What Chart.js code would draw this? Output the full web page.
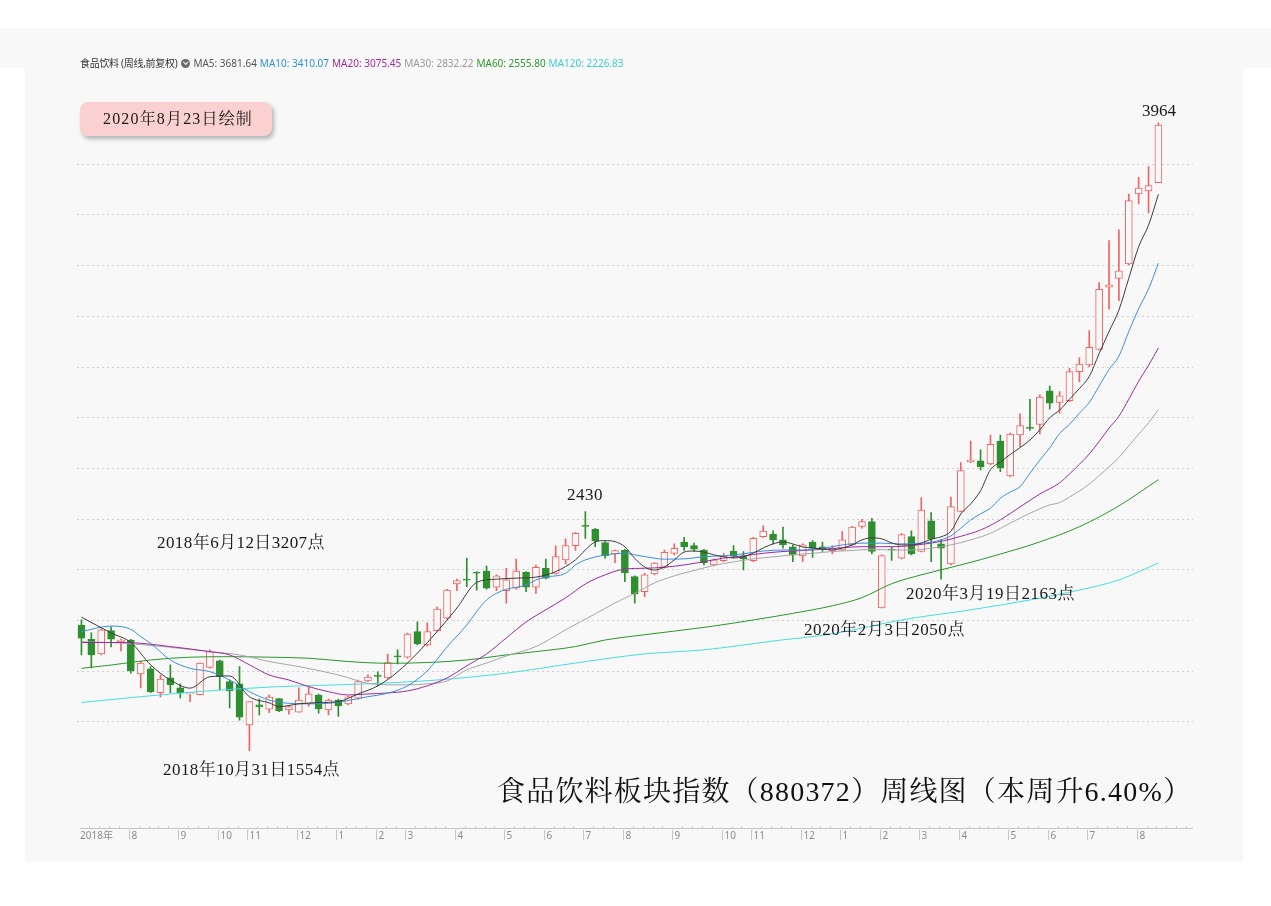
<!DOCTYPE html>
<html lang="zh">
<head>
<meta charset="utf-8">
<title>食品饮料板块指数周线图</title>
<script src="https://cdn.jsdelivr.net/npm/chart.js@4.4.1/dist/chart.umd.min.js"></script>
<style>
html,body{margin:0;padding:0;background:#fff;}
body{width:1271px;height:906px;position:relative;overflow:hidden;font-family:"Noto Sans","Noto Sans CJK SC",sans-serif;}
#band{position:absolute;left:0;top:28px;width:1271px;height:40px;background:#f8f8f8;}
#panel{position:absolute;left:25px;top:68px;width:1218px;height:794px;background:#f8f8f8;}
#wrap{position:absolute;left:0;top:0;width:1271px;height:906px;}
#legend{position:absolute;left:80px;top:56px;height:14px;display:flex;align-items:center;font-size:10px;line-height:14px;white-space:nowrap;}
#legend span{margin-right:3px;}
#legend .name{letter-spacing:-0.3px;margin-right:4px;}
#legend .icon{position:relative;display:inline-block;width:9px;height:9px;border-radius:50%;background:#6b6b6b;margin-right:3px;}
#legend .icon:after{content:"";position:absolute;left:3px;top:1.5px;width:2.5px;height:2.5px;border-right:1.2px solid #fff;border-bottom:1.2px solid #fff;transform:rotate(45deg);}
.note{position:absolute;font-family:"Liberation Serif","Noto Serif CJK SC","Noto Sans CJK SC",serif;color:#1a1a1a;white-space:nowrap;line-height:1;font-size:17px;}
#stamp{position:absolute;left:80px;top:102px;width:192px;height:34px;border-radius:8px;background:#fbd0d0;box-shadow:2px 3px 4px rgba(0,0,0,0.28);}
#stamp span{position:absolute;left:23px;top:9px;font-size:16px;}
#title{font-size:28px;color:#111;}
</style>
</head>
<body>
<div id="band"></div>
<div id="panel"></div>
<div id="wrap"><canvas id="klineChart" width="1271" height="906"></canvas></div>

<div id="legend">
  <span class="name" style="color:#333">食品饮料 (周线,前复权)</span>
  <span class="icon"></span>
  <span style="color:#555">MA5: 3681.64</span>
  <span style="color:#2f8fdd">MA10: 3410.07</span>
  <span style="color:#a3299f">MA20: 3075.45</span>
  <span style="color:#9a9a9a">MA30: 2832.22</span>
  <span style="color:#2b9a2b">MA60: 2555.80</span>
  <span style="color:#3dcfcf">MA120: 2226.83</span>
</div>

<div id="stamp"><span class="note" data-w="150">2020年8月23日绘制</span></div>
<span class="note" style="left:567px;top:486px" data-w="36">2430</span>
<span class="note" style="left:1142px;top:102px" data-w="34">3964</span>
<span class="note" style="left:157px;top:534px" data-w="168">2018年6月12日3207点</span>
<span class="note" style="left:163px;top:761px" data-w="177">2018年10月31日1554点</span>
<span class="note" style="left:804px;top:621px" data-w="161">2020年2月3日2050点</span>
<span class="note" style="left:906px;top:585px" data-w="169">2020年3月19日2163点</span>
<span class="note" id="title" style="left:497px;top:778px" data-w="695">食品饮料板块指数（880372）周线图（本周升6.40%）</span>

<script>
// weekly candles, 2018-07 .. 2020-08
const opens = [1982,1926,1868,1960,1916,1923,1789,1809,1715,1774,1734,1710,1707,1815,1841,1759,1750,1588,1667,1650,
  1692,1647,1638,1671,1706,1647,1686,1671,1693,1761,1783,1773,1859,1855,1956,1903,1960,2009,2144,2163,
  2191,2195,2131,2118,2127,2190,2131,2206,2186,2239,2295,2373,2360,2307,2263,2278,2173,2114,2184,2210,
  2265,2309,2295,2278,2219,2236,2274,2252,2236,2331,2341,2318,2291,2255,2309,2291,2276,2278,2298,2371,
  2390,2049,2281,2246,2331,2272,2393,2302,2223,2430,2626,2630,2618,2708,2570,2732,2762,2774,2906,2860,
  2867,2982,3008,3070,3315,3350,3407,3683,3695,3728];
const highs = [2002,1951,1967,1974,1927,1926,1840,1818,1785,1825,1750,1714,1833,1884,1844,1765,1818,1680,1690,1706,
  1692,1662,1734,1738,1709,1690,1690,1702,1765,1785,1797,1867,1884,1950,1995,1991,2053,2123,2163,2246,
  2193,2215,2180,2206,2242,2193,2219,2242,2294,2322,2347,2430,2364,2311,2278,2281,2176,2186,2228,2278,
  2302,2328,2305,2281,2242,2265,2295,2272,2328,2373,2354,2368,2298,2302,2315,2309,2294,2351,2371,2399,
  2403,2259,2291,2343,2354,2485,2426,2318,2487,2623,2708,2673,2732,2732,2739,2815,2873,2890,2925,2903,
  2995,3036,3144,3333,3499,3541,3683,3749,3791,3964];
const lows = [1864,1813,1864,1896,1880,1792,1734,1715,1698,1715,1694,1680,1706,1812,1726,1655,1607,1486,1627,1636,
  1640,1630,1638,1662,1634,1627,1621,1667,1689,1759,1742,1769,1828,1851,1903,1899,1957,2005,2118,2133,
  2120,2123,2118,2068,2123,2114,2107,2164,2183,2223,2276,2324,2291,2246,2228,2153,2068,2094,2180,2206,
  2259,2276,2272,2219,2215,2232,2246,2199,2232,2328,2302,2285,2232,2232,2249,2272,2263,2276,2294,2364,
  2263,2049,2237,2243,2259,2270,2232,2163,2219,2428,2623,2594,2614,2587,2566,2686,2750,2736,2834,2818,
  2863,2942,3001,3068,3228,3262,3403,3644,3609,3728];
const closes = [1930,1864,1963,1926,1923,1801,1832,1719,1769,1746,1714,1714,1832,1877,1778,1723,1618,1680,1659,1698,
  1644,1660,1686,1710,1651,1686,1663,1699,1759,1777,1779,1834,1856,1946,1907,1956,2045,2120,2157,2159,
  2187,2127,2176,2160,2195,2131,2210,2167,2252,2295,2344,2371,2314,2255,2276,2189,2105,2180,2226,2269,
  2285,2291,2281,2228,2239,2255,2255,2243,2324,2353,2318,2298,2259,2298,2285,2281,2285,2318,2368,2390,
  2272,2256,2278,2339,2263,2436,2321,2285,2449,2591,2633,2607,2695,2603,2735,2769,2758,2881,2857,2886,
  2982,3012,3078,3307,3324,3380,3657,3706,3716,3955];

// moving averages: [week index, value]
const ma5 = [[0,2013],[3,1951],[5,1913],[7,1825],[9,1765],[11,1733],[13,1778],[15,1781],[17,1699],[19,1675],
  [20,1660],[22,1671],[24,1676],[26,1680],[28,1710],[30,1742],[32,1797],[34,1871],[36,1956],[38,2049],
  [40,2150],[42,2163],[44,2167],[46,2171],[48,2193],[50,2239],[51,2278],[52,2310],[53,2315],[54,2311],
  [55,2291],[56,2245],[57,2211],[58,2199],[59,2211],[60,2239],[61,2270],[62,2274],[63,2270],[64,2259],
  [65,2251],[66,2247],[67,2251],[68,2266],[69,2286],[70,2302],[71,2310],[72,2302],[73,2290],[74,2286],
  [75,2282],[76,2278],[77,2286],[78,2298],[79,2318],[80,2326],[81,2322],[82,2306],[83,2298],[84,2298],
  [85,2305],[86,2321],[87,2330],[88,2352],[89,2420],[90,2460],[91,2512],[92,2595],[93,2625],[94,2655],
  [95,2682],[96,2712],[97,2752],[98,2800],[99,2830],[100,2873],[101,2915],[102,2963],[103,3053],[104,3140],
  [105,3225],[106,3350],[107,3475],[108,3560],[109,3681.64]];
const ma10 = [[0,1956],[3,1978],[5,1965],[6,1936],[7,1910],[9,1844],[11,1811],[13,1798],[15,1765],[17,1719],
  [19,1686],[21,1673],[23,1671],[25,1673],[27,1684],[29,1699],[31,1713],[33,1742],[35,1801],[37,1896],
  [39,1982],[40,2035],[41,2081],[42,2107],[43,2123],[45,2140],[46,2160],[47,2171],[49,2186],[50,2219],
  [51,2239],[53,2258],[55,2265],[56,2259],[57,2252],[59,2242],[61,2243],[63,2252],[65,2255],[67,2263],
  [69,2274],[71,2278],[73,2278],[75,2285],[77,2298],[79,2305],[81,2305],[83,2302],[85,2305],[86,2309],
  [87,2318],[88,2334],[89,2364],[90,2397],[91,2421],[92,2443],[93,2482],[94,2507],[95,2528],[96,2581],
  [97,2633],[98,2681],[99,2738],[100,2774],[101,2818],[102,2860],[103,2925],[104,2990],[105,3043],[106,3140],
  [107,3230],[108,3308],[109,3410.07]];
const ma20 = [[0,1913],[4,1913],[6,1910],[9,1897],[13,1877],[15,1864],[17,1825],[19,1785],[21,1765],[23,1739],
  [25,1719],[27,1706],[29,1710],[31,1714],[33,1722],[35,1742],[37,1773],[39,1821],[41,1868],[43,1931],
  [45,1994],[47,2042],[49,2089],[51,2144],[53,2180],[55,2203],[57,2206],[59,2210],[61,2219],[63,2232],
  [65,2246],[67,2255],[69,2265],[71,2272],[73,2276],[75,2281],[77,2287],[79,2291],[81,2291],[83,2292],
  [85,2300],[87,2312],[89,2332],[91,2357],[93,2397],[95,2448],[97,2499],[99,2543],[100,2578],[101,2616],
  [102,2657],[103,2706],[104,2759],[105,2806],[106,2873],[107,2944],[108,3007],[109,3075.45]];
const ma30 = [[0,1916],[4,1911],[9,1894],[13,1877],[16,1864],[19,1838],[22,1818],[26,1785],[29,1752],[31,1746],
  [33,1746],[35,1750],[37,1761],[39,1805],[41,1832],[43,1860],[46,1897],[49,1963],[52,2026],[54,2069],
  [56,2107],[58,2148],[60,2176],[62,2197],[64,2217],[66,2231],[68,2243],[70,2251],[72,2259],[74,2265],
  [76,2272],[78,2276],[80,2281],[82,2278],[84,2278],[86,2285],[88,2298],[90,2318],[92,2344],[94,2384],
  [96,2423],[98,2456],[99,2465],[100,2487],[101,2511],[102,2538],[103,2572],[104,2606],[105,2643],[106,2689],
  [107,2735],[108,2780],[109,2832.22]];
const ma60 = [[0,1811],[3,1824],[7,1844],[11,1855],[15,1857],[19,1855],[23,1851],[27,1838],[31,1831],[35,1834],
  [39,1844],[43,1864],[46,1877],[50,1897],[53,1923],[56,1939],[60,1958],[64,1978],[68,2002],[72,2028],
  [76,2058],[79,2090],[82,2145],[85,2180],[89,2219],[93,2262],[97,2310],[101,2370],[105,2452],[109,2555.80]];
const ma120 = [[0,1676],[9,1710],[19,1737],[29,1750],[36,1765],[43,1792],[50,1832],[57,1868],[63,1884],[70,1919],
  [76,1947],[83,2002],[90,2042],[96,2081],[101,2120],[105,2160],[109,2226.83]];

// month ticks on the week axis
const monthTicks = [[0,'2018年'],[5,'8'],[10,'9'],[14,'10'],[17,'11'],[22,'12'],[26,'1'],[30,'2'],[33,'3'],
  [38,'4'],[43,'5'],[47,'6'],[51,'7'],[55,'8'],[60,'9'],[65,'10'],[68,'11'],[73,'12'],[77,'1'],[81,'2'],
  [85,'3'],[89,'4'],[94,'5'],[98,'6'],[102,'7'],[107,'8']];
const gridValues = [1600,1800,2000,2200,2400,2600,2800,3000,3200,3400,3600,3800];

const RED = '#f06464';
const GREEN = '#2f8f2f';
const BG = '#f8f8f8';
const slots = opens.length + 3;
const labels = Array.from({length: slots}, (_, i) => String(i));
const up = closes.map((c, i) => c >= opens[i]);

function spread(pairs) {
  const a = new Array(slots).fill(null);
  pairs.forEach(([i, v]) => { a[i] = v; });
  return a;
}

function maLine(label, pairs, color) {
  return {
    type: 'line', label, data: spread(pairs), borderColor: color, borderWidth: 1,
    pointRadius: 0, spanGaps: true, cubicInterpolationMode: 'monotone', order: 0
  };
}

const monthAxis = {
  id: 'monthAxis',
  afterDraw(chart) {
    const {ctx, chartArea} = chart;
    const x = chart.scales.x;
    const y0 = chartArea.bottom;
    ctx.save();
    ctx.strokeStyle = '#c4c4c4';
    ctx.lineWidth = 1;
    ctx.beginPath();
    ctx.moveTo(chartArea.left + 3, y0 + 0.5);
    ctx.lineTo(chartArea.right, y0 + 0.5);
    ctx.stroke();
    const marked = new Set(monthTicks.map(t => t[0]));
    ctx.strokeStyle = '#d0d0d0';
    ctx.beginPath();
    for (let i = 1; i < slots; i++) {
      if (marked.has(i)) continue;
      const px = Math.round(x.getPixelForValue(i)) - 2 + 0.5;
      ctx.moveTo(px, y0 - 2);
      ctx.lineTo(px, y0);
    }
    ctx.stroke();
    ctx.font = '10px "Noto Sans", "Noto Sans CJK SC", sans-serif';
    ctx.textBaseline = 'middle';
    ctx.textAlign = 'left';
    monthTicks.forEach(([i, txt]) => {
      const px = Math.round(x.getPixelForValue(i)) - 2 + 0.5;
      if (i === 0) {
        ctx.fillStyle = '#8c8c8c';
        ctx.fillText(txt, 80, y0 + 8);
        return;
      }
      ctx.strokeStyle = '#c4c4c4';
      ctx.beginPath();
      ctx.moveTo(px, y0 + 2);
      ctx.lineTo(px, y0 + 12);
      ctx.stroke();
      ctx.fillStyle = '#8c8c8c';
      ctx.fillText(txt, px + 2, y0 + 8);
    });
    ctx.restore();
  }
};

new Chart(document.getElementById('klineChart'), {
  type: 'bar',
  data: {
    labels,
    datasets: [
      maLine('MA5', ma5, '#3c3c3c'),
      maLine('MA10', ma10, '#3a8fdc'),
      maLine('MA20', ma20, '#9c2aa0'),
      maLine('MA30', ma30, '#a6a6a6'),
      maLine('MA60', ma60, '#2a962a'),
      maLine('MA120', ma120, '#45dede'),
      {
        label: 'body',
        data: opens.map((o, i) => [o, closes[i]]),
        backgroundColor: ctx => up[ctx.dataIndex] ? BG : GREEN,
        borderColor: ctx => up[ctx.dataIndex] ? RED : GREEN,
        borderWidth: 1,
        borderSkipped: false,
        barThickness: 7,
        minBarLength: 1,
        grouped: false,
        order: 1
      },
      {
        label: 'wick',
        data: lows.map((l, i) => [l, highs[i]]),
        backgroundColor: ctx => up[ctx.dataIndex] ? RED : GREEN,
        borderWidth: 0,
        barThickness: 1,
        grouped: false,
        order: 2
      }
    ]
  },
  options: {
    responsive: false,
    animation: false,
    devicePixelRatio: 1,
    layout: { padding: { left: 76.5, right: 78, top: 85, bottom: 78 } },
    plugins: { legend: { display: false }, tooltip: { enabled: false } },
    scales: {
      x: { display: false, offset: true, grid: { display: false } },
      y: {
        min: 1181, max: 4113,
        border: { display: false, dash: [2, 3] },
        grid: { color: '#cfcfcf', drawTicks: false },
        ticks: { display: false },
        afterBuildTicks: axis => { axis.ticks = gridValues.map(v => ({ value: v })); }
      }
    }
  },
  plugins: [monthAxis]
});

document.querySelectorAll('[data-w]').forEach(el => {
  const target = +el.dataset.w;
  const count = [...el.textContent].length;
  const natural = el.getBoundingClientRect().width;
  el.style.letterSpacing = ((target - natural) / count).toFixed(2) + 'px';
});
</script>
</body>
</html>
